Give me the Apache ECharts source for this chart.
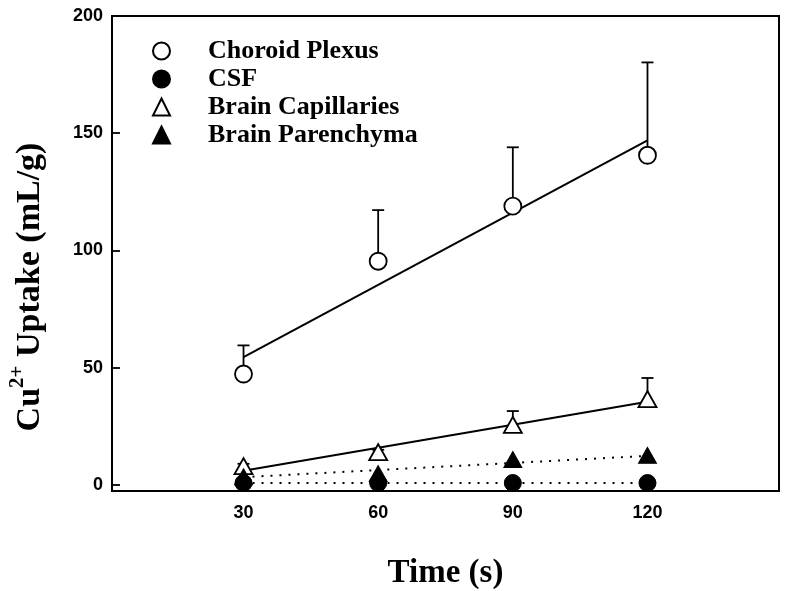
<!DOCTYPE html>
<html>
<head>
<meta charset="utf-8">
<script src="https://cdn.jsdelivr.net/npm/echarts@6/dist/echarts.min.js"></script>
<style>html,body{margin:0;padding:0;background:#fff}#c{width:785px;height:591px}</style>
</head>
<body>
<div id="c"></div>
<script>
// ---- data ----
var times = [30, 60, 90, 120];
var xTicks = [30, 60, 90, 120];
var yTicks = [0, 50, 100, 150, 200];

var choroid = [47.3, 95.4, 118.9, 140.6];
var choroidErrTop = [59.5, 117.2, 144.0, 180.2];
var choroidFit = [54.5, 147.0];

var csf = [0.8, 0.8, 0.8, 0.8];
var csfFit = [0.8, 0.8];

var capillaries = [8.0, 14.0, 25.6, 36.6];
var capillariesErrTop = [9.0, 15.0, 31.5, 45.6];
var capillariesFit = [6.0, 35.5];

var parenchyma = [3.5, 4.8, 10.8, 12.6];
var parenchymaFit = [3.3, 12.4];

var fitTimes = [30, 120];

function pairs(xs, ys) { return xs.map(function (x, i) { return [x, ys[i]]; }); }
function errData(xs, ys, tops) { return xs.map(function (x, i) { return [x, ys[i], tops[i]]; }); }

function errRender(params, api) {
  var x = api.value(0), top = api.value(2), mean = api.value(1);
  var p0 = api.coord([x, mean]);
  var p1 = api.coord([x, top]);
  var hw = 6;
  return {
    type: 'group',
    children: [
      { type: 'line', shape: { x1: p0[0], y1: p0[1], x2: p1[0], y2: p1[1] }, style: { stroke: '#000', lineWidth: 1.8 } },
      { type: 'line', shape: { x1: p1[0] - hw, y1: p1[1], x2: p1[0] + hw, y2: p1[1] }, style: { stroke: '#000', lineWidth: 1.8 } }
    ]
  };
}

var chart = echarts.init(document.getElementById('c'), null, { renderer: 'canvas' });
var serif = 'Liberation Serif, Times New Roman, serif';
var sans = 'Liberation Sans, Arial, sans-serif';
var openStyle = { color: '#fff', borderColor: '#000', borderWidth: 1.8, opacity: 1 };
var filledStyle = { color: '#000', borderColor: '#000', borderWidth: 1, opacity: 1 };

chart.setOption({
  animation: false,
  backgroundColor: '#fff',
  grid: { left: 112, right: 6, top: 16, bottom: 100, outerBoundsMode: 'none', containLabel: false, show: true, borderColor: '#000', borderWidth: 2, backgroundColor: 'transparent' },
  xAxis: {
    type: 'value', min: 0.7, max: 149.3,
    axisLine: { show: true, onZero: false, lineStyle: { color: '#000', width: 2 } },
    axisTick: { show: false },
    splitLine: { show: false },
    axisLabel: { customValues: xTicks, color: '#000', fontFamily: sans, fontWeight: 'bold', fontSize: 18, margin: 13 },
    name: 'Time (s)', nameLocation: 'middle', nameGap: 66,
    nameTextStyle: { fontFamily: serif, fontWeight: 'bold', fontSize: 33, color: '#000' }
  },
  yAxis: {
    type: 'value', min: -2.6, max: 200,
    axisLine: { show: true, onZero: false, lineStyle: { color: '#000', width: 2 } },
    axisTick: { show: true, inside: true, length: 8, customValues: yTicks, lineStyle: { color: '#000', width: 1.8 } },
    splitLine: { show: false },
    axisLabel: { customValues: yTicks, color: '#000', fontFamily: sans, fontWeight: 'bold', fontSize: 18, margin: 9 }
  },
  graphic: [{
    type: 'text', x: 27, y: 287, rotation: Math.PI / 2,
    style: {
      text: '{a|Cu}{s|2+}{a| Uptake (mL/g)}',
      align: 'center', verticalAlign: 'middle',
      rich: {
        a: { fontFamily: serif, fontWeight: 'bold', fontSize: 34, fill: '#000', lineHeight: 40, verticalAlign: 'bottom' },
        s: { fontFamily: serif, fontWeight: 'bold', fontSize: 21, fill: '#000', lineHeight: 40, verticalAlign: 'top', padding: [0, 0, 14, 0] }
      }
    }
  }],
  legend: {
    orient: 'vertical', left: 147, top: 33, itemGap: 2,
    itemWidth: 17, itemHeight: 17,
    textStyle: { fontFamily: serif, fontWeight: 'bold', fontSize: 26, lineHeight: 26, color: '#000', padding: [0, 0, 0, 33] },
    data: ['Choroid Plexus', 'CSF', 'Brain Capillaries', 'Brain Parenchyma']
  },
  series: [
    { type: 'line', name: 'fitChoroid', data: pairs(fitTimes, choroidFit), showSymbol: false, lineStyle: { color: '#000', width: 2 }, z: 1, silent: true },
    { type: 'line', name: 'fitCap', data: pairs(fitTimes, capillariesFit), showSymbol: false, lineStyle: { color: '#000', width: 2 }, z: 1, silent: true },
    { type: 'line', name: 'fitPar', data: pairs(fitTimes, parenchymaFit), showSymbol: false, lineStyle: { color: '#000', width: 2, type: [2, 7] }, z: 1, silent: true },
    { type: 'line', name: 'fitCsf', data: pairs(fitTimes, csfFit), showSymbol: false, lineStyle: { color: '#000', width: 2, type: [2, 7] }, z: 1, silent: true },
    { type: 'custom', name: 'errChoroid', data: errData(times, choroid, choroidErrTop), renderItem: errRender, z: 2, silent: true },
    { type: 'custom', name: 'errCap', data: errData(times, capillaries, capillariesErrTop), renderItem: errRender, z: 2, silent: true },
    { type: 'scatter', name: 'Choroid Plexus', data: pairs(times, choroid), symbol: 'circle', symbolSize: 17, itemStyle: openStyle, z: 5 },
    { type: 'scatter', name: 'CSF', data: pairs(times, csf), symbol: 'circle', symbolSize: 17, itemStyle: filledStyle, z: 5 },
    { type: 'scatter', name: 'Brain Capillaries', data: pairs(times, capillaries), symbol: 'triangle', symbolSize: [18, 16], itemStyle: openStyle, z: 6 },
    { type: 'scatter', name: 'Brain Parenchyma', data: pairs(times, parenchyma), symbol: 'triangle', symbolSize: [18, 16], itemStyle: filledStyle, z: 6 }
  ]
});
</script>
</body>
</html>
